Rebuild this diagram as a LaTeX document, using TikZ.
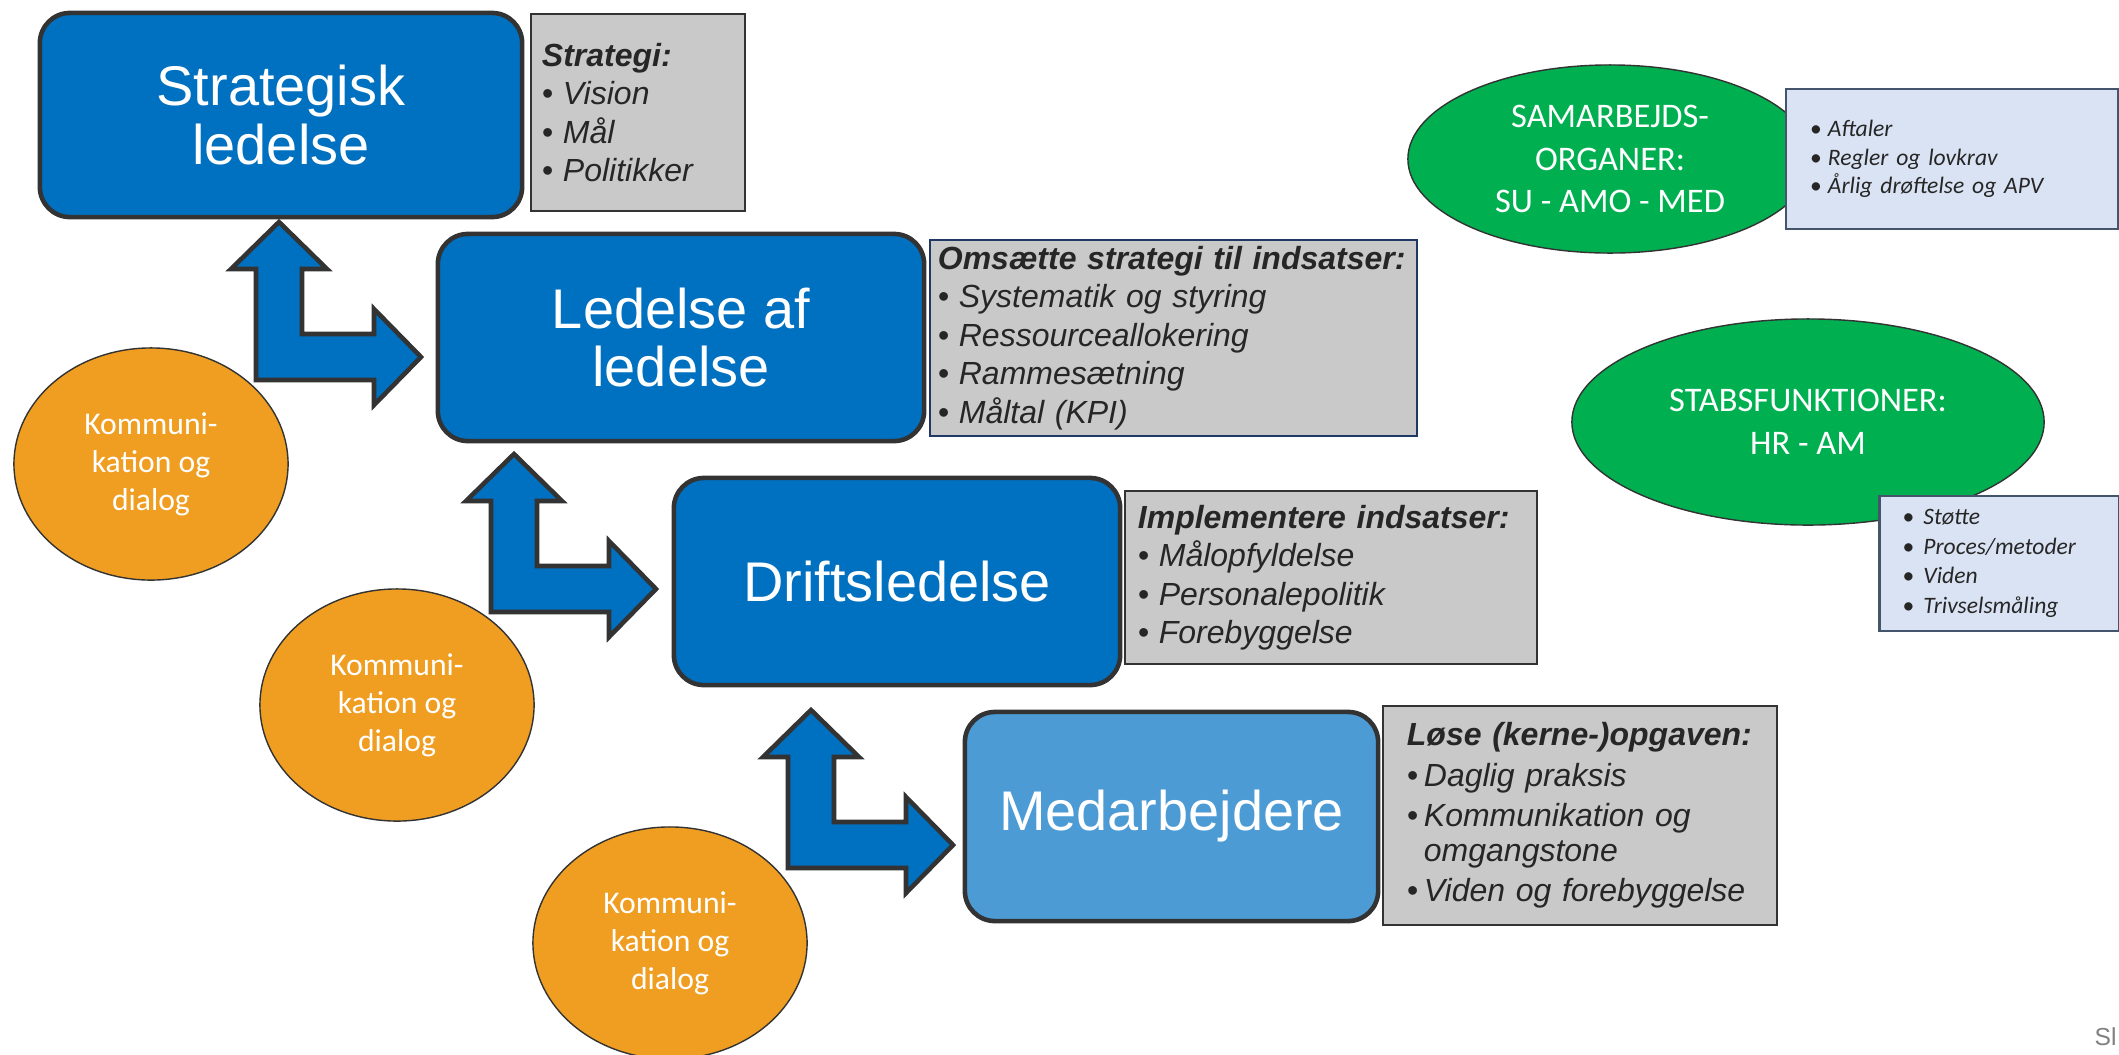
\documentclass[tikz,border=0pt]{standalone}
\usepackage{fontspec}
\setmainfont{Liberation Sans}
\newfontfamily\calibri{Carlito}
\usetikzlibrary{shapes.geometric}

\definecolor{boxblue}{RGB}{0,112,192}
\definecolor{lightblue}{RGB}{76,155,212}
\definecolor{edgegray}{RGB}{51,51,51}
\definecolor{notegray}{RGB}{201,201,201}
\definecolor{notetext}{RGB}{38,38,38}
\definecolor{navy}{RGB}{32,56,100}
\definecolor{talkorange}{RGB}{240,158,34}
\definecolor{organgreen}{RGB}{0,176,80}
\definecolor{paleblue}{RGB}{218,227,243}
\definecolor{slate}{RGB}{68,84,106}

% bullet line: bullet in a fixed box, then the text
\newcommand{\blt}[2][0.21cm]{\makebox[#1][l]{\textbullet}#2}

\begin{document}
\begin{tikzpicture}[x=0.01cm,y=-0.01cm,
  level/.style={draw=edgegray,line width=1.3pt,fill=boxblue,rounded corners=0.3cm,
    text=white,align=center,inner sep=0pt,font=\fontsize{15.9}{16.5}\selectfont},
  note/.style={draw=edgegray,line width=0.6pt,fill=notegray,text=notetext,align=left,
    inner sep=0pt,font=\fontsize{9.1}{10.95}\selectfont\itshape},
  talk/.style={ellipse,draw=edgegray,line width=0.4pt,fill=talkorange,text=white,
    minimum width=2.74cm,minimum height=2.32cm,inner sep=0pt,align=center,
    font=\calibri\fontsize{9}{10.8}\selectfont},
  organ/.style={ellipse,draw=edgegray,line width=0.4pt,fill=organgreen,text=white,
    inner sep=0pt,align=center,font=\calibri\fontsize{9.8}{12.1}\selectfont},
  aside/.style={draw=slate,line width=0.6pt,fill=paleblue,text=notetext,align=left,
    inner sep=0pt,font=\calibri\itshape\fontsize{6.7}{8.1}\selectfont},
  updown/.pic={
    \draw[edgegray,line width=1.3pt,fill=boxblue]
      (0,0) -- (118,0) -- (118,25) -- (165,-23) -- (118,-71) -- (118,-46)
      -- (46,-46) -- (46,-111) -- (71,-111) -- (23,-158) -- (-25,-111)
      -- (0,-111) -- cycle;}]
\useasboundingbox (0,0) rectangle (2119,1054);
\clip (0,0) rectangle (2119,1054);

% grey notes beside each level
\node[note,minimum width=2.14cm,minimum height=1.97cm,text width=1.92cm] (stratnote) at (638,112.5)
  {{\bfseries Strategi:}\\ \blt{Vision}\\ \blt{Mål}\\ \blt{Politikker}};
\node[note,draw=navy,minimum width=4.87cm,minimum height=1.96cm,text width=4.71cm] (ledernote) at (1173.5,338)
  {\mbox{\bfseries Omsætte strategi til indsatser:}\\ \blt{Systematik og styring}\\
   \blt{Ressourceallokering}\\ \blt{Rammesætning}\\ \blt{Måltal (KPI)}};
\node[note,minimum width=4.12cm,minimum height=1.73cm,text width=3.86cm] (driftnote) at (1331,577.5)
  {{\bfseries Implementere indsatser:}\\ \blt{Målopfyldelse}\\ \blt{Personalepolitik}\\ \blt{Forebyggelse}};
\node[note,minimum width=3.94cm,minimum height=2.19cm,text width=3.46cm] (medarbnote) at (1580,815.5)
  {{\bfseries Løse (kerne-)opgaven:}\\[0.5pt] \blt[0.17cm]{Daglig praksis}\\[0.5pt]
   \blt[0.17cm]{Kommunikation og}\\[-1pt] \hspace*{0.17cm}omgangstone\\[0.5pt]
   \blt[0.17cm]{Viden og forebyggelse}};

% the four levels
\node[level,minimum width=4.82cm,minimum height=2.04cm] (strat) at (281,115) {Strategisk\\ledelse};
\node[level,minimum width=4.86cm,minimum height=2.07cm] (leder) at (681,337.5) {Ledelse af\\ledelse};
\node[level,minimum width=4.46cm,minimum height=2.07cm] (drift) at (897,581.5) {Driftsledelse};
\node[level,fill=lightblue,minimum width=4.13cm,minimum height=2.09cm] (medarb) at (1171.5,816.5) {Medarbejdere};

% block arrows between the levels
\pic at (256,380) {updown};
\pic at (491,612) {updown};
\pic at (788,868) {updown};

\node[talk] (talk1) at (151,464) {Kommuni-\\kation og\\dialog};
\node[talk] (talk2) at (397,705) {Kommuni-\\kation og\\dialog};
\node[talk] (talk3) at (670,943) {Kommuni-\\kation og\\dialog};

% right hand side
\node[organ,minimum width=4.04cm,minimum height=1.88cm] (samarb) at (1610,159)
  {SAMARBEJDS-\\ORGANER:\\SU - AMO - MED};
\node[aside,minimum width=3.32cm,minimum height=1.40cm,text width=2.84cm] (samarbnote) at (1952,159)
  {\blt[0.18cm]{Aftaler}\\ \blt[0.18cm]{Regler og lovkrav}\\ \blt[0.18cm]{Årlig drøftelse og APV}};
\node[organ,minimum width=4.72cm,minimum height=2.06cm] (stabs) at (1808,422)
  {STABSFUNKTIONER:\\HR - AM};
\node[aside,minimum width=2.39cm,minimum height=1.35cm,text width=1.93cm] (stabsnote) at (1999,563.5)
  {\blt{Støtte}\\[0.3pt] \blt{Proces/metoder}\\[0.3pt] \blt{Viden}\\[0.3pt] \blt{Trivselsmåling}};

\node[anchor=base west,inner sep=0pt,text=gray,font=\fontsize{7}{8}\selectfont] (slide) at (2094,1045) {Sl};
\end{tikzpicture}
\end{document}
